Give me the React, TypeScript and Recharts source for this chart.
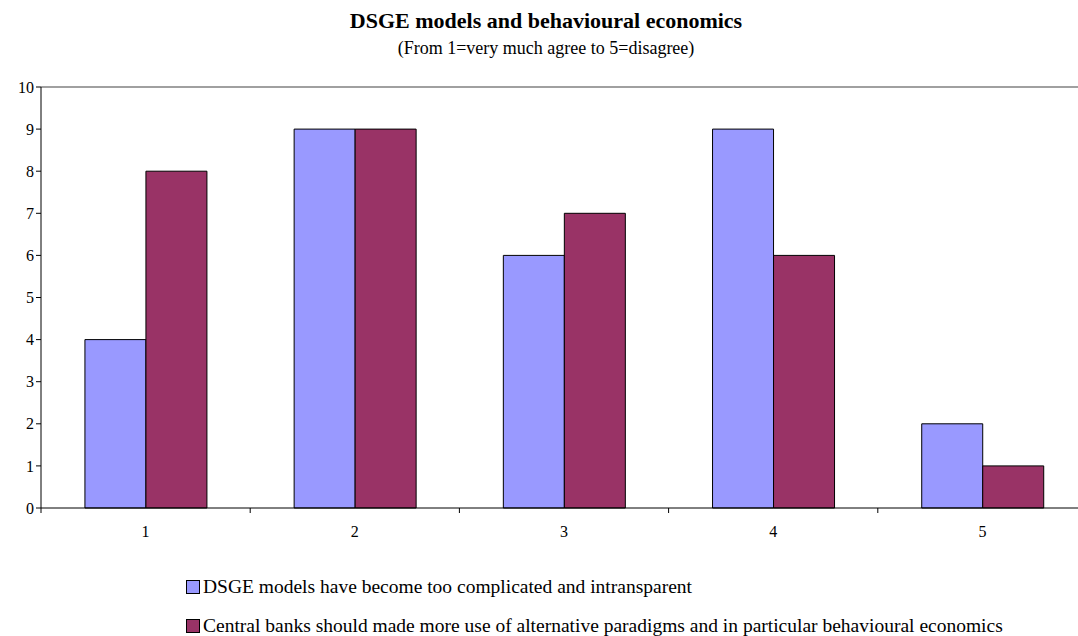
import React from 'react';
import { BarChart, Bar, XAxis, YAxis, ReferenceLine } from 'recharts';

const categories = ['1', '2', '3', '4', '5'];
const dsgeComplicated = [4, 9, 6, 9, 2];
const useAlternativeParadigms = [8, 9, 7, 6, 1];
const yTicks = [0, 1, 2, 3, 4, 5, 6, 7, 8, 9, 10];
const seriesNames = [
  'DSGE models have become too complicated and intransparent',
  'Central banks should made more use of alternative paradigms and in particular behavioural economics',
];
const seriesColors = ['#9999FF', '#993366'];
const titleText = 'DSGE models and behavioural economics';
const subtitleText = '(From 1=very much agree to 5=disagree)';

const data = categories.map((c, i) => ({
  cat: c,
  a: dsgeComplicated[i],
  b: useAlternativeParadigms[i],
}));

const FONT = '"Liberation Serif", "Times New Roman", serif';

const XTick = (props: any) => {
  const { x, y, payload, index } = props;
  const off = payload && typeof payload.offset === 'number' ? payload.offset : 0;
  return (
    <g>
      <line x1={x + off} x2={x + off} y1={y} y2={y + 5} stroke="#000" strokeWidth={1} />
      {index === 0 ? <line x1={x - off} x2={x - off} y1={y} y2={y + 5} stroke="#000" strokeWidth={1} /> : null}
      <text x={x} y={y + 29} textAnchor="middle" fontFamily={FONT} fontSize={16} fill="#000">
        {payload.value}
      </text>
    </g>
  );
};

export default function App() {
  return (
    <div
      style={{
        position: 'absolute',
        left: 0,
        top: 0,
        width: 1078,
        height: 636,
        overflow: 'hidden',
        background: '#fff',
        fontFamily: FONT,
      }}
    >
      <div
        style={{
          position: 'absolute',
          left: 146,
          width: 800,
          top: 10,
          textAlign: 'center',
          fontWeight: 'bold',
          fontSize: 22,
          lineHeight: '22px',
        }}
      >
        {titleText}
      </div>
      <div
        style={{
          position: 'absolute',
          left: 146,
          width: 800,
          top: 39,
          textAlign: 'center',
          fontSize: 18,
          lineHeight: '18px',
        }}
      >
        {subtitleText}
      </div>
      <div style={{ position: 'absolute', left: 0, top: 0 }}>
        <BarChart
          width={1090}
          height={636}
          data={data}
          margin={{ top: 87, right: 3, left: 0, bottom: 98 }}
          barCategoryGap="21%"
          barGap={0}
        >
          <ReferenceLine y={10} stroke="#808080" strokeWidth={1.5} />
          <XAxis
            dataKey="cat"
            height={30}
            tickSize={0}
            tickMargin={0}
            tickLine={false}
            axisLine={{ stroke: '#000', strokeWidth: 1 }}
            tick={<XTick />}
            interval={0}
          />
          <YAxis
            width={41}
            domain={[0, 10]}
            ticks={yTicks}
            interval={0}
            tickSize={5}
            tickMargin={2}
            axisLine={{ stroke: '#000', strokeWidth: 1 }}
            tickLine={{ stroke: '#000' }}
            tick={{ fill: '#000', fontFamily: FONT, fontSize: 16 }}
          />
          <Bar dataKey="a" name={seriesNames[0]} fill={seriesColors[0]} stroke="#000" strokeWidth={1} isAnimationActive={false} />
          <Bar dataKey="b" name={seriesNames[1]} fill={seriesColors[1]} stroke="#000" strokeWidth={1} isAnimationActive={false} />
        </BarChart>
      </div>
      {seriesNames.map((name, i) => (
        <div
          key={name}
          style={{
            position: 'absolute',
            left: 186,
            top: i === 0 ? 576 : 615,
            display: 'flex',
            alignItems: 'center',
            fontSize: 19.5,
            lineHeight: '22px',
            whiteSpace: 'nowrap',
          }}
        >
          <span
            style={{
              display: 'inline-block',
              width: 12,
              height: 12,
              background: seriesColors[i],
              border: '1px solid #000',
              marginRight: 3,
            }}
          />
          <span>{name}</span>
        </div>
      ))}
    </div>
  );
}
